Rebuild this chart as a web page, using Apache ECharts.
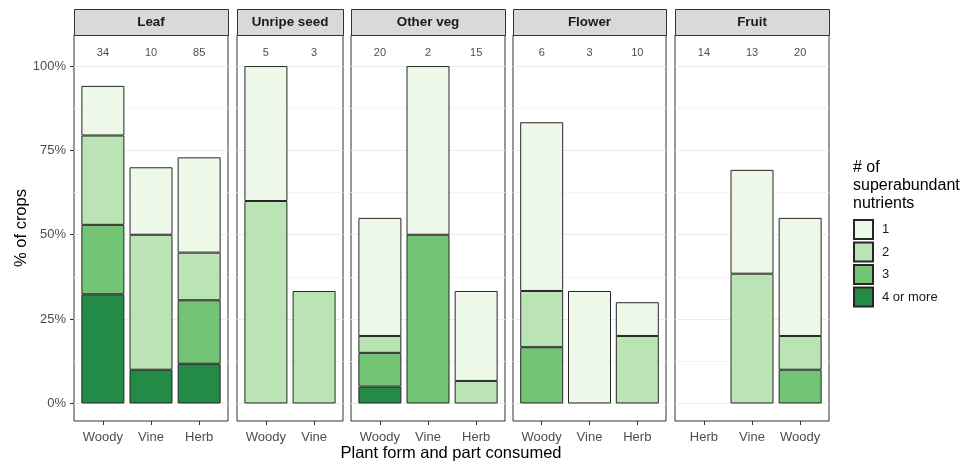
<!DOCTYPE html>
<html>
<head>
<meta charset="utf-8">
<script src="https://cdn.jsdelivr.net/npm/echarts@6/dist/echarts.min.js"></script>
<style>
  html, body { margin: 0; padding: 0; background: #fff; }
  #chart { width: 978px; height: 463px; }
</style>
</head>
<body>
<div id="chart"></div>
<script>
// facets and plant forms
var facets = ["Leaf", "Unripe seed", "Other veg", "Flower", "Fruit"];
var forms = [
  ["Woody", "Vine", "Herb"],
  ["Woody", "Vine"],
  ["Woody", "Vine", "Herb"],
  ["Woody", "Vine", "Herb"],
  ["Herb", "Vine", "Woody"]
];
// number of crops per bar
var counts = [[34, 10, 85], [5, 3], [20, 2, 15], [6, 3, 10], [14, 13, 20]];
// legend levels (# of superabundant nutrients)
var levels = ["1", "2", "3", "4 or more"];
// % of crops for each level, per facet
var lvl1 = [[14.71, 20, 28.24], [40, null], [35, 50, 26.67], [50, 33.33, 10], [null, 30.77, 35]];
var lvl2 = [[26.47, 40, 14.12], [60, 33.33], [5, null, 6.67], [16.67, null, 20], [null, 38.46, 10]];
var lvl3 = [[20.59, null, 18.82], [null, null], [10, 50, null], [16.67, null, null], [null, null, 10]];
var lvl4 = [[32.35, 10, 11.76], [null, null], [5, null, null], [null, null, null], [null, null, null]];
var yTicks = [0, 25, 50, 75, 100];
var yMinor = [12.5, 37.5, 62.5, 87.5];

var colors = { "1": "#EDF8E9", "2": "#BAE4B3", "3": "#74C476", "4 or more": "#238B45" };
var levelData = { "1": lvl1, "2": lvl2, "3": lvl3, "4 or more": lvl4 };

// panel layout (left, width) in px
var panels = [[74, 154], [237, 106], [351, 154], [513, 153], [675, 154]];
var gridTop = 35, gridBottom = 421;

var grids = [], xAxes = [], yAxes = [], series = [], graphics = [];

panels.forEach(function (p, f) {
  var n = forms[f].length;
  var pos = forms[f].map(function (d, i) { return i + 1; });
  grids.push({
    left: p[0], top: gridTop, width: p[1], height: gridBottom - gridTop,
    show: true, backgroundColor: "#fff", borderColor: "#333", borderWidth: 1
  });
  xAxes.push({
    gridIndex: f, type: "value", min: 0.4, max: n + 0.6,
    axisLine: { show: false, onZero: false },
    splitLine: { show: false },
    axisTick: { show: true, customValues: pos, length: 4, lineStyle: { color: "#333" } },
    axisLabel: {
      customValues: pos, margin: 10, fontSize: 13, color: "#4D4D4D",
      fontFamily: "Liberation Sans",
      formatter: function (v) { return forms[f][Math.round(v) - 1]; }
    }
  });
  var y = {
    gridIndex: f, type: "value", min: -5.2, max: 109.2,
    axisLine: { show: false, onZero: false },
    splitLine: { show: false }
  };
  if (f === 0) {
    y.axisTick = { show: true, customValues: yTicks, length: 4, lineStyle: { color: "#333" } };
    y.axisLabel = {
      customValues: yTicks, margin: 8, fontSize: 13, color: "#4D4D4D",
      fontFamily: "Liberation Sans",
      formatter: function (v) { return v + "%"; }
    };
  } else {
    y.axisTick = { show: false };
    y.axisLabel = { show: false };
  }
  yAxes.push(y);

  // stacked bars, bottom level first; value put first so it is the stacked dimension
  ["4 or more", "3", "2", "1"].forEach(function (lv) {
    series.push({
      type: "bar", name: lv, xAxisIndex: f, yAxisIndex: f, stack: "s" + f,
      barWidth: 43, z: 3,
      encode: { x: 1, y: 0 },
      data: levelData[lv][f].map(function (v, i) { return [v == null ? "-" : v, i + 1]; }),
      itemStyle: { color: colors[lv], borderColor: "#262626", borderWidth: 1 }
    });
  });

  // counts on top + grid lines
  var lines = yTicks.map(function (v) { return { yAxis: v, lineStyle: { color: "#EBEBEB", width: 1, type: "solid" } }; })
    .concat(yMinor.map(function (v) { return { yAxis: v, lineStyle: { color: "#F4F4F4", width: 1, type: "solid" } }; }));
  series.push({
    type: "scatter", xAxisIndex: f, yAxisIndex: f, symbolSize: 0, z: 4,
    data: counts[f].map(function (c, i) { return [i + 1, 104]; }),
    label: {
      show: true, position: "inside", fontSize: 11, color: "#1A1A1A",
      fontFamily: "Liberation Sans",
      formatter: function (pr) { return String(counts[f][pr.dataIndex]); }
    },
    markLine: {
      silent: true, symbol: "none", z: 1, animation: false,
      label: { show: false },
      data: lines
    }
  });

  // facet strip
  graphics.push({
    type: "rect", left: p[0], top: 9, z: 10,
    shape: { width: p[1], height: 26 },
    style: { fill: "#D9D9D9", stroke: "#333", lineWidth: 1 }
  });
  graphics.push({
    type: "text", x: p[0] + p[1] / 2, y: 22, z: 11,
    style: {
      text: facets[f], fontSize: 13.4, fontWeight: "bold", fill: "#1A1A1A",
      fontFamily: "Liberation Sans", textAlign: "center", textVerticalAlign: "middle"
    }
  });
});

// axis titles
graphics.push({
  type: "text", x: 451, y: 453,
  style: {
    text: "Plant form and part consumed", fontSize: 16.5, fill: "#000",
    fontFamily: "Liberation Sans", textAlign: "center", textVerticalAlign: "middle"
  }
});
graphics.push({
  type: "text", x: 21, y: 228, rotation: Math.PI / 2,
  style: {
    text: "% of crops", fontSize: 16.5, fill: "#000",
    fontFamily: "Liberation Sans", textAlign: "center", textVerticalAlign: "middle"
  }
});

var chart = echarts.init(document.getElementById("chart"));
chart.setOption({
  animation: false,
  backgroundColor: "#fff",
  textStyle: { fontFamily: "Liberation Sans" },
  title: {
    text: "# of\nsuperabundant\nnutrients", left: 853, top: 159, padding: 0,
    textStyle: { fontSize: 16, fontWeight: "normal", lineHeight: 18, color: "#000", fontFamily: "Liberation Sans" }
  },
  legend: {
    data: levels, orient: "vertical", left: 853, top: 219, padding: 0,
    itemWidth: 19, itemHeight: 19, itemGap: 1.5, icon: "rect",
    selectedMode: false,
    textStyle: { fontSize: 13, color: "#1A1A1A", fontFamily: "Liberation Sans", padding: [0, 0, 0, 4] }
  },
  grid: grids,
  xAxis: xAxes,
  yAxis: yAxes,
  series: series,
  graphic: graphics
});
</script>
</body>
</html>
